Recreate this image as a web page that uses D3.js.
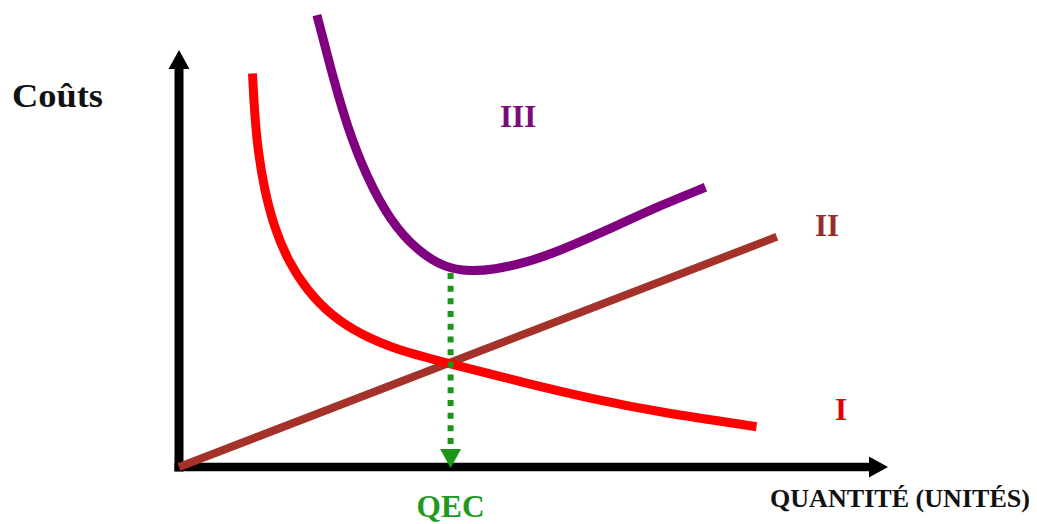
<!DOCTYPE html>
<html>
<head>
<meta charset="utf-8">
<script src="https://cdn.jsdelivr.net/npm/d3@7"></script>
<style>
  html, body { margin: 0; padding: 0; background: #fff; }
  svg { display: block; }
  text { font-family: "Liberation Serif", "DejaVu Serif", serif; font-weight: bold; }
</style>
</head>
<body>
<svg id="chart" width="1037" height="524"></svg>
<script>
// ---- Data (in abstract units) ----
const curveI_x   = [10.5, 10.8, 11.3, 12.2, 13.6, 15.6, 18.3, 21.8, 26.0, 31.1, 38.2, 49.7, 59.1, 68.7, 82.5];
const curveI_y   = [93.7, 84.0, 75.0, 66.0, 57.0, 49.0, 42.0, 36.0, 31.5, 27.9, 24.8, 19.9, 16.2, 13.0, 9.6];
const curveII_x  = [0, 85.4];
const curveII_y  = [0, 54.8];
const curveIII_x = [19.7, 21.6, 24.0, 26.8, 30.1, 34.0, 38.0, 41.5, 45.0, 49.7, 54.4, 59.1, 64.0, 68.7, 75.2];
const curveIII_y = [107.6, 95.3, 81.0, 69.1, 58.8, 51.5, 47.4, 46.6, 47.0, 48.7, 51.5, 54.9, 58.6, 62.2, 66.6];
const qecX = 38.8;
const qecTopY = 46.2;
const curveLabels = ["I", "II", "III"];
const yTitle = "Coûts";
const xTitle = "QUANTITÉ (UNITÉS)";
const qecLabel = "QEC";

// ---- Scales ----
const x = d3.scaleLinear().domain([0, 100]).range([179, 879]);
const y = d3.scaleLinear().domain([0, 100]).range([467, 47]);

const svg = d3.select("#chart");
const line = d3.line().x(d => x(d[0])).y(d => y(d[1])).curve(d3.curveBasis);
const zip = (a, b) => a.map((v, i) => [v, b[i]]);

// ---- Axes with arrows ----
const x0 = x(0), y0 = y(0);
const yTop = 50, xRight = 888;
svg.append("line").attr("x1", x0).attr("y1", y0 + 4.5).attr("x2", x0).attr("y2", yTop + 16)
  .attr("stroke", "#000").attr("stroke-width", 9);
svg.append("path").attr("d", `M${x0},${yTop} L${x0 - 10.5},${yTop + 19} L${x0 + 10.5},${yTop + 19} Z`).attr("fill", "#000");
svg.append("line").attr("x1", x0 - 4.5).attr("y1", y0).attr("x2", xRight - 16).attr("y2", y0)
  .attr("stroke", "#000").attr("stroke-width", 8.5);
svg.append("path").attr("d", `M${xRight},${y0} L${xRight - 19},${y0 - 10.5} L${xRight - 19},${y0 + 10.5} Z`).attr("fill", "#000");

// ---- Curves ----
svg.append("path").datum(zip(curveII_x, curveII_y)).attr("d", line)
  .attr("fill", "none").attr("stroke", "#a5322a").attr("stroke-width", 8);
svg.append("path").datum(zip(curveI_x, curveI_y)).attr("d", line)
  .attr("fill", "none").attr("stroke", "#ff0000").attr("stroke-width", 9);
svg.append("path").datum(zip(curveIII_x, curveIII_y)).attr("d", line)
  .attr("fill", "none").attr("stroke", "#800080").attr("stroke-width", 9);

// ---- QEC dotted arrow ----
const qx = x(qecX);
svg.append("line").attr("x1", qx).attr("y1", y(qecTopY)).attr("x2", qx).attr("y2", y0 - 20)
  .attr("stroke", "#1a961a").attr("stroke-width", 6).attr("stroke-dasharray", "6,6.7");
svg.append("path").attr("d", `M${qx},${y0 + 1} L${qx - 10.5},${y0 - 18} L${qx + 10.5},${y0 - 18} Z`).attr("fill", "#1a961a");

// ---- Text ----
svg.append("text").attr("x", 12).attr("y", 107).attr("font-size", 34).attr("fill", "#111")
  .attr("textLength", 91).attr("lengthAdjust", "spacingAndGlyphs").text(yTitle);
svg.append("text").attr("x", 770).attr("y", 507).attr("font-size", 25).attr("fill", "#111")
  .attr("textLength", 260).attr("lengthAdjust", "spacingAndGlyphs").text(xTitle);
svg.append("text").attr("x", qx - 34).attr("y", 517).attr("font-size", 31).attr("fill", "#1f9a1f")
  .attr("textLength", 68).attr("lengthAdjust", "spacingAndGlyphs").text(qecLabel);
svg.append("text").attr("x", 835).attr("y", 420).attr("font-size", 31).attr("fill", "#e80000").text(curveLabels[0]);
svg.append("text").attr("x", 815).attr("y", 236).attr("font-size", 31).attr("fill", "#9b2a2a").text(curveLabels[1]);
svg.append("text").attr("x", 500).attr("y", 127).attr("font-size", 31).attr("fill", "#7d0a7d").text(curveLabels[2]);
</script>
</body>
</html>
